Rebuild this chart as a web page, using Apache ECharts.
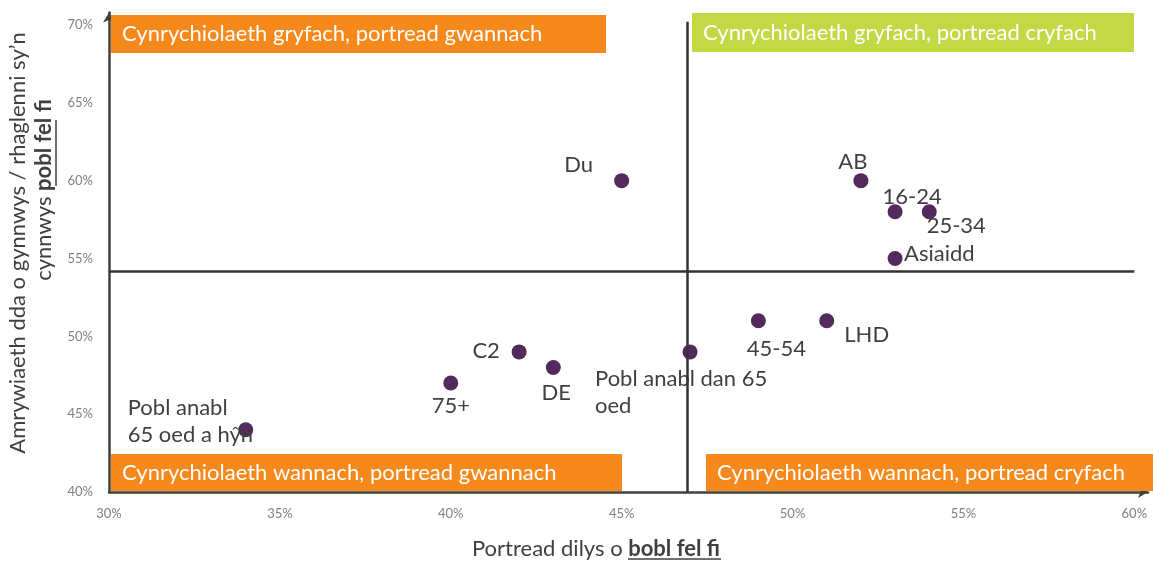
<!DOCTYPE html>
<html>
<head>
<meta charset="utf-8">
<script src="https://cdn.jsdelivr.net/npm/echarts@6/dist/echarts.min.js"></script>
<style>
  html, body { margin: 0; padding: 0; background: #fff; }
  #chart { width: 1153px; height: 563px; }
</style>
</head>
<body>
<div id="chart"></div>
<script>
// values (percent)
const groups = ['Du', 'AB', '16-24', '25-34', 'Asiaidd', 'LHD', '45-54',
  'Pobl anabl dan 65\noed', 'DE', 'C2', '75+', 'Pobl anabl\n65 oed a hŷn']
const portrayal = [45, 52, 53, 54, 53, 51, 49, 47, 43, 42, 40, 34]
const diversity = [60, 60, 58, 58, 55, 51, 51, 49, 48, 49, 47, 44]

// quadrant dividers
const dividerX = 46.92
const dividerY = 54.15

const FONT = 'Lato, Carlito, sans-serif'
const dot = '#522a5c'
const ink = '#404040'

// where each label sits relative to its dot
const labelPlace = {
  'Du': [-43, -16, 'center'],
  'AB': [-8, -19, 'center'],
  '16-24': [17, -15, 'center'],
  '25-34': [27, 14, 'center'],
  'Asiaidd': [9, -5, 'left'],
  'LHD': [40, 14, 'center'],
  '45-54': [18, 28, 'center'],
  'Pobl anabl dan 65\noed': [-95, 41, 'left'],
  'DE': [3, 25, 'center'],
  'C2': [-33, -1, 'center'],
  '75+': [0, 23, 'center'],
  'Pobl anabl\n65 oed a hŷn': [-118, -8, 'left']
}

const points = groups.map((name, i) => {
  const p = labelPlace[name]
  return {
    name: name,
    value: [portrayal[i], diversity[i]],
    label: { offset: [p[0], p[1]], align: p[2] }
  }
})

function box (x, y, w, h, color, text) {
  return [{
    type: 'rect',
    shape: { x: x, y: y, width: w, height: h },
    style: { fill: color },
    z: 1
  }, {
    type: 'text',
    x: x + 11,
    y: y + h / 2,
    z: 2,
    style: { text: text, fill: '#fff', fontSize: 22, fontFamily: FONT, verticalAlign: 'middle' }
  }]
}

const chart = echarts.init(document.getElementById('chart'))

chart.setOption({
  backgroundColor: '#fff',
  animation: false,
  grid: { left: 109, right: 5, top: 12.5, bottom: 71 },
  xAxis: {
    type: 'value',
    min: 30,
    max: 60.4,
    interval: 5,
    splitLine: { show: false },
    axisTick: { show: false },
    axisLine: { lineStyle: { color: ink, width: 2.5 }, symbol: ['none', 'arrow'], symbolSize: [9, 10] },
    axisLabel: { color: '#808080', fontSize: 13, fontFamily: FONT, margin: 15, showMaxLabel: false, formatter: '{value}%' }
  },
  yAxis: {
    type: 'value',
    min: 40,
    max: 70.8,
    interval: 5,
    splitLine: { show: false },
    axisTick: { show: false },
    axisLine: { lineStyle: { color: ink, width: 2.5 }, symbol: ['none', 'arrow'], symbolSize: [9, 10] },
    axisLabel: { color: '#808080', fontSize: 13, fontFamily: FONT, margin: 16, showMaxLabel: false, formatter: '{value}%' }
  },
  series: [{
    type: 'scatter',
    symbolSize: 15,
    itemStyle: { color: dot, opacity: 1 },
    z: 3,
    label: {
      show: true,
      position: 'inside',
      formatter: '{b}',
      color: ink,
      fontSize: 22,
      lineHeight: 27,
      fontFamily: FONT
    },
    data: points,
    markLine: {
      silent: true,
      symbol: 'none',
      label: { show: false },
      lineStyle: { color: '#333', width: 2.5, type: 'solid' },
      data: [
        [{ coord: [dividerX, 40] }, { coord: [dividerX, 70.2] }],
        [{ coord: [30, dividerY] }, { coord: [60, dividerY] }]
      ]
    }
  }],
  graphic: [].concat(
    box(111, 15, 495, 38, '#f5891c', 'Cynrychiolaeth gryfach, portread gwannach'),
    box(692, 13, 442, 39, '#c2d844', 'Cynrychiolaeth gryfach, portread cryfach'),
    box(111, 454, 511, 37, '#f5891c', 'Cynrychiolaeth wannach, portread gwannach'),
    box(706, 454, 447, 37, '#f5891c', 'Cynrychiolaeth wannach, portread cryfach'),
    [
      {
        type: 'text',
        x: 18, y: 243, rotation: Math.PI / 2,
        style: {
          text: 'Amrywiaeth dda o gynnwys / rhaglenni sy\u2019n',
          fill: ink, fontSize: 22, fontFamily: FONT, align: 'center', verticalAlign: 'middle'
        }
      },
      {
        type: 'text',
        x: 44, y: 190, rotation: Math.PI / 2,
        style: {
          text: 'cynnwys {b|pobl fel fi}',
          fill: ink, fontSize: 22, fontFamily: FONT, align: 'center', verticalAlign: 'middle',
          rich: { b: { fontWeight: 'bold', fontSize: 22, fontFamily: FONT, fill: ink } }
        }
      },
      { type: 'line', shape: { x1: 56, y1: 120, x2: 56, y2: 186 }, style: { stroke: ink, lineWidth: 1.5 } },
      {
        type: 'text',
        x: 596, y: 549,
        style: {
          text: 'Portread dilys o {b|bobl fel fi}',
          fill: ink, fontSize: 22, fontFamily: FONT, align: 'center', verticalAlign: 'middle',
          rich: { b: { fontWeight: 'bold', fontSize: 22, fontFamily: FONT, fill: ink } }
        }
      },
      { type: 'line', shape: { x1: 628, y1: 559, x2: 721, y2: 559 }, style: { stroke: ink, lineWidth: 1.5 } }
    ]
  )
})
</script>
</body>
</html>
